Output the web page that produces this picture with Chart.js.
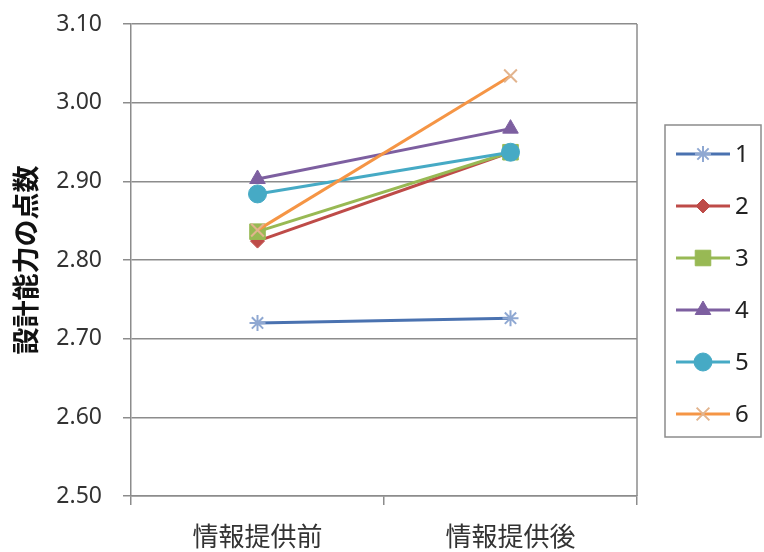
<!DOCTYPE html>
<html>
<head>
<meta charset="utf-8">
<script src="https://cdn.jsdelivr.net/npm/chart.js@4/dist/chart.umd.min.js"></script>
<style>
  html, body { margin: 0; padding: 0; background: #fff; }
  #wrap { width: 764px; height: 552px; }
</style>
</head>
<body>
<div id="wrap"><canvas id="c" width="764" height="552"></canvas></div>
<script>
// data
const categories = ['情報提供前', '情報提供後'];
const seriesNames = ['1', '2', '3', '4', '5', '6'];
const s1 = [2.720, 2.726];
const s2 = [2.824, 2.937];
const s3 = [2.836, 2.937];
const s4 = [2.903, 2.967];
const s5 = [2.884, 2.937];
const s6 = [2.838, 3.034];
const yTicks = [2.50, 2.60, 2.70, 2.80, 2.90, 3.00, 3.10];

const lineColors = ['#4A72B0', '#BE4B48', '#98B954', '#7D5FA0', '#46AAC5', '#F59545'];
const markColors = ['#8FA8D2', '#BE4B48', '#98B954', '#7D5FA0', '#46AAC5', '#E2B48E'];
const styles = ['star', 'rectRot', 'rect', 'triangle', 'circle', 'crossRot'];
const radii = [8, 7, 11, 9, 9, 9];

const allSeries = [s1, s2, s3, s4, s5, s6];
const datasets = allSeries.map((vals, i) => ({
  label: seriesNames[i],
  data: vals,
  order: allSeries.length - i,   // later series drawn on top, like Excel
  borderColor: lineColors[i],
  backgroundColor: markColors[i],
  pointBorderColor: markColors[i],
  pointBackgroundColor: markColors[i],
  pointStyle: styles[i],
  pointRadius: radii[i],
  pointBorderWidth: (styles[i] === 'star' || styles[i] === 'crossRot') ? 2 : 1,
  borderWidth: 3,
  tension: 0
}));

// right border of the plot area
const frame = {
  id: 'frame',
  beforeDatasetsDraw(chart) {
    const a = chart.chartArea, ctx = chart.ctx;
    ctx.save();
    ctx.strokeStyle = '#8c8c8c';
    ctx.lineWidth = 1.5;
    ctx.beginPath();
    ctx.moveTo(a.right, a.top);
    ctx.lineTo(a.right, a.bottom);
    ctx.stroke();
    ctx.restore();
  }
};

// boxed legend, line with marker in the middle
const boxLegend = {
  id: 'boxLegend',
  afterDraw(chart) {
    const ctx = chart.ctx;
    const bx = 665, by = 125, bw = 96, bh = 312;
    ctx.save();
    ctx.strokeStyle = '#8c8c8c';
    ctx.lineWidth = 1.5;
    ctx.strokeRect(bx, by, bw, bh);
    chart.data.datasets.forEach((ds, i) => {
      const y = 154 + i * 52;
      ctx.strokeStyle = ds.borderColor;
      ctx.lineWidth = 3;
      ctx.beginPath();
      ctx.moveTo(676, y);
      ctx.lineTo(730, y);
      ctx.stroke();
      ctx.fillStyle = ds.pointBackgroundColor;
      ctx.strokeStyle = ds.pointBorderColor;
      ctx.lineWidth = ds.pointBorderWidth;
      Chart.helpers.drawPoint(ctx, {
        pointStyle: ds.pointStyle, radius: ds.pointRadius, rotation: 0,
        borderWidth: ds.pointBorderWidth
      }, 703, y);
      ctx.fillStyle = '#222';
      ctx.font = '24px "Noto Sans", "Liberation Sans", sans-serif';
      ctx.textBaseline = 'middle';
      ctx.textAlign = 'left';
      ctx.fillText(ds.label, 735, y + 1);
    });
    ctx.restore();
  }
};

new Chart(document.getElementById('c'), {
  type: 'line',
  data: { labels: categories, datasets: datasets },
  plugins: [frame, boxLegend],
  options: {
    responsive: false,
    animation: false,
    layout: { padding: { top: 24, right: 127, left: 10, bottom: 0 } },
    plugins: {
      legend: { display: false },
      tooltip: { enabled: false }
    },
    scales: {
      x: {
        offset: true,
        grid: { offset: true, drawOnChartArea: false, color: '#8c8c8c', lineWidth: 1.5, tickLength: 9 },
        border: { color: '#8c8c8c', width: 1.5 },
        ticks: {
          color: '#333',
          padding: 16,
          font: { family: '"Noto Sans CJK JP"', size: 26 }
        },
        afterFit(scale) {
          scale.height = 56;
          scale.paddingLeft = 0;
          scale.paddingRight = 0;
        }
      },
      y: {
        min: 2.5,
        max: 3.1,
        afterBuildTicks(scale) { scale.ticks = yTicks.map(v => ({ value: v })); },
        grid: { color: '#8c8c8c', lineWidth: 1.5, tickLength: 8 },
        border: { color: '#8c8c8c', width: 1.5 },
        ticks: {
          color: '#333',
          padding: 21,
          font: { family: '"Noto Sans", sans-serif', size: 23 },
          callback: v => Number(v).toFixed(2)
        },
        title: {
          display: true,
          text: '設計能力の点数',
          color: '#111',
          padding: { top: 0, bottom: 0 },
          font: { family: '"Noto Sans CJK JP"', size: 27, weight: 'bold' }
        },
        afterFit(scale) {
          scale.width = 121;
          scale.paddingTop = 0;
          scale.paddingBottom = 0;
        }
      }
    }
  }
});
</script>
</body>
</html>
